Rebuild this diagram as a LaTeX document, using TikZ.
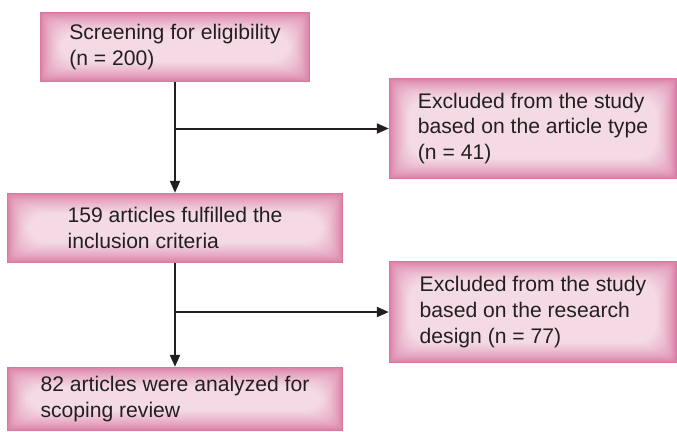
\documentclass[tikz,border=0pt]{standalone}
\usepackage{fontspec}
\setmainfont{Liberation Sans}
\usepackage{xcolor}
\usepackage{tikz}
\usetikzlibrary{arrows.meta,positioning}

\definecolor{boxedge}{RGB}{216,120,160}
\definecolor{boxcore}{RGB}{244,218,229}
\definecolor{inktext}{RGB}{35,31,32}

\tikzset{
    glowbox/.style={rectangle, inner sep=0pt, align=left, text=inktext,
        font=\fontsize{21.2}{26}\selectfont,
        path picture={
            \fill[boxedge] (path picture bounding box.south west) rectangle (path picture bounding box.north east);
            \foreach \i in {1,...,20} {
                \pgfmathsetmacro{\mix}{100*(\i/20)^0.7}
                \fill[boxcore!\mix!boxedge, rounded corners=\i bp]
                    ([shift={(\i bp,\i bp)}]path picture bounding box.south west) rectangle
                    ([shift={(-\i bp,-\i bp)}]path picture bounding box.north east);
            }
        }},
    flowline/.style={line width=2bp, draw=inktext, -{Triangle[length=12bp,width=10bp]}}
}

\begin{document}
\begin{tikzpicture}[x=1bp, y=-1bp]
    \useasboundingbox (0,0) rectangle (677,431);
    \node [glowbox, minimum width=270bp, minimum height=70bp] (screen) at (175,47) {Screening for eligibility\\(n = 200)};
    \node [glowbox, minimum width=288bp, minimum height=101bp] (excltype) at (533,128.5) {Excluded from the study\\based on the article type\\(n = 41)};
    \node [glowbox, minimum width=336bp, minimum height=70bp] (incl) at (175,228) {159 articles fulfilled the\\inclusion criteria};
    \node [glowbox, minimum width=288bp, minimum height=102bp] (excldesign) at (533,312) {Excluded from the study\\based on the research\\design (n = 77)};
    \node [glowbox, minimum width=336bp, minimum height=64bp] (analyzed) at (175,399) {82 articles were analyzed for\\scoping review};

    \coordinate (split1) at (screen.south |- excltype.west);
    \coordinate (split2) at (incl.south |- excldesign.west);

    \draw [flowline] (screen) -- (incl);
    \draw [flowline] (split1) -- (excltype);
    \draw [flowline] (incl) -- (analyzed);
    \draw [flowline] (split2) -- (excldesign);
\end{tikzpicture}
\end{document}
